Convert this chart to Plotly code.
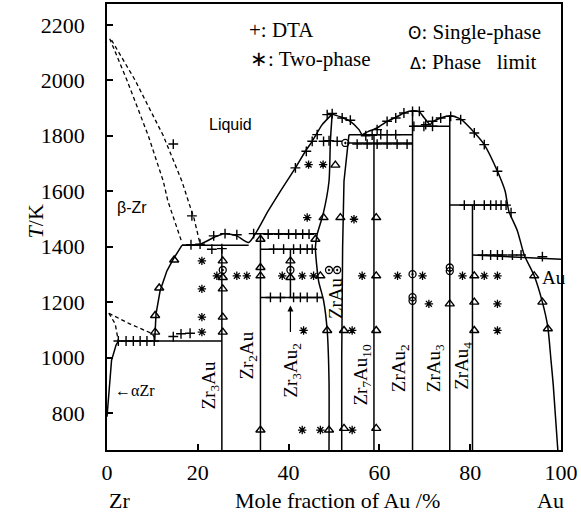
import plotly.graph_objects as go

# ---------------- data (x: mole fraction Au %, y: T/K) ----------------
liqA_x = [0.6, 4.4, 9.1, 12.4, 13.4, 15.0, 16.5]
liqA_y = [2150, 2000, 1800, 1636, 1565, 1490, 1415]
liqB_x = [1.0, 6.2, 12.4, 16.5, 17.9, 19.2, 20.5]
liqB_y = [2145, 2000, 1800, 1636, 1565, 1500, 1410]
ab1_x = [0.4, 1.8, 2.5]
ab1_y = [1160, 1122, 1060]
ab2_x = [0.4, 5.0, 9.9, 10.5]
ab2_y = [1160, 1122, 1087, 1072]
aZr_x = [0.0, 0.5, 1.0, 2.0, 2.5]
aZr_y = [787, 900, 990, 1045, 1060]
bZr_x = [10.5, 10.6, 10.8, 11.7, 13.2, 14.6, 16.5]
bZr_y = [1060, 1092, 1158, 1241, 1313, 1355, 1405]
liq1_x = [16.5, 20.5, 23.5, 25.7, 28.6, 31.2, 35.5, 38.2, 41.5, 43.7, 45.2, 47.4, 49.6]
liq1_y = [1405, 1409, 1433, 1447, 1439, 1415, 1529, 1600, 1684, 1744, 1780, 1840, 1878]
liq2_x = [49.6, 51.8, 53.6, 55.5, 56.2, 57.5, 59.5, 61.7, 63.6, 65.4, 67.3, 68.8, 69.8, 71.2,
          71.7, 73.5, 75.7, 77.9, 80.9, 83.1, 86.0, 87.7, 88.5, 90.4, 91.9, 94.1, 95.9,
          97.1, 97.8, 98.3, 99.3]
liq2_y = [1878, 1866, 1852, 1822, 1804, 1815, 1828, 1852, 1866, 1882, 1890, 1886, 1866, 1840,
          1850, 1864, 1872, 1860, 1812, 1768, 1672, 1600, 1529, 1457, 1370, 1295, 1200,
          1110, 990, 900, 667]
zrauL_x = [49.6, 49.2, 48.9, 47.6, 46.3, 45.9, 46.6, 47.7, 48.5, 48.9, 48.9]
zrauL_y = [1878, 1780, 1636, 1517, 1445, 1397, 1277, 1206, 1098, 918, 667]
zrauR_x = [53.3, 52.6, 52.2, 51.9, 51.7, 51.7]
zrauR_y = [1804, 1700, 1636, 1400, 1000, 667]
comp_x = [25.3, 33.8, 40.4, 58.8, 67.3, 75.5, 80.5]
comp_lo = [667, 667, 1217, 667, 667, 667, 667]
comp_hi = [1400, 1447, 1391, 1804, 1890, 1872, 1550]
hor_x0 = [2.5, 16.5, 32.3, 33.8, 33.8, 53.3, 52.9, 67.3, 75.5, 80.5]
hor_x1 = [25.3, 31.2, 46.3, 45.9, 47.6, 67.3, 67.3, 75.5, 88.3, 100.0]
hor_y0 = [1060, 1405, 1447, 1391, 1217, 1804, 1774, 1834, 1550, 1370]
hor_y1 = [1060, 1405, 1447, 1391, 1217, 1804, 1774, 1834, 1550, 1355]

dta_x = [14.6, 18.7, 18.5, 2.5, 4.2, 5.8, 7.3, 8.8, 10.4, 14.6, 16.3, 18.3,
         20.5, 23.5, 26.0, 28.6, 23.1, 25.3,
         32.3, 35.5, 37.8, 40.0, 41.6, 43.1, 44.5,
         36.7, 38.9, 41.1, 42.6, 44.1, 45.2,
         36.0, 38.2, 41.1, 42.6, 44.1, 46.3,
         41.5, 43.9, 45.2, 46.3, 48.5, 49.6, 51.8, 53.6,
         47.7, 48.9, 50.7,
         57.0, 58.4, 60.3, 61.7, 63.6,
         55.1, 57.3, 59.5, 61.7, 63.9, 66.1,
         59.5, 61.7, 63.6, 65.4, 67.3, 68.8,
         67.6, 69.8, 71.7,
         70.2, 71.7, 73.5, 75.7, 77.9, 80.9, 83.1, 86.0, 89.0,
         78.7, 80.9, 83.1, 84.5, 85.7, 86.8, 87.9,
         82.7, 84.5, 86.0, 87.1, 89.3, 91.2, 95.9]
dta_y = [1770, 1511, 1407, 1060, 1060, 1060, 1060, 1060, 1060, 1076, 1086, 1088,
         1409, 1439, 1447, 1443, 1391, 1393,
         1447, 1445, 1445, 1445, 1445, 1445, 1445,
         1391, 1391, 1391, 1391, 1391, 1391,
         1217, 1217, 1217, 1217, 1217, 1217,
         1684, 1744, 1780, 1804, 1876, 1880, 1864, 1856,
         1780, 1782, 1780,
         1800, 1802, 1804, 1804, 1804,
         1770, 1770, 1770, 1770, 1770, 1770,
         1822, 1852, 1864, 1882, 1888, 1888,
         1834, 1834, 1834,
         1840, 1852, 1864, 1870, 1858, 1810, 1768, 1672, 1523,
         1550, 1550, 1550, 1550, 1550, 1550, 1550,
         1370, 1370, 1370, 1370, 1370, 1370, 1364]
two_x = [20.9, 20.9, 20.9, 20.9, 24.2, 28.6, 30.8, 38.6, 43.0, 45.5,
         43.3, 54.0, 56.2, 44.1, 54.4, 44.4, 47.6,
         64.0, 69.5, 70.9, 78.3, 83.1, 86.0, 86.0, 86.0, 43.0, 47.0, 54.0]
two_y = [1349, 1248, 1146, 1092, 1295, 1295, 1295, 1295, 1295, 1295,
         1098, 1098, 1295, 1505, 1499, 1696, 1696,
         1295, 1295, 1194, 1295, 1295, 1295, 1194, 1098, 739, 739, 739]
single_x = [25.5, 40.4, 48.9, 50.7, 52.5, 67.3, 67.3, 67.3, 75.5, 75.5]
single_y = [1316, 1316, 1316, 1316, 1774, 1301, 1218, 1205, 1325, 1312]
limit_x = [14.8, 11.5, 10.6, 10.6,
           25.5, 25.5, 25.5, 25.5, 25.5,
           33.8, 33.8, 33.8, 33.8, 45.9, 40.4, 40.4, 47.0,
           47.7, 51.4, 48.5, 52.2, 48.9, 52.2, 50.3,
           59.3, 59.3, 59.3, 59.3, 75.5, 80.9, 80.9, 80.9, 94.1, 95.9, 97.1]
limit_y = [1352, 1251, 1152, 1092,
           1349, 1289, 1248, 1146, 1092,
           1427, 1325, 1295, 739, 1427, 1349, 1289, 1295,
           1505, 1505, 1098, 1098, 739, 745, 1694,
           1505, 1295, 1098, 745, 1194, 1295, 1200, 1098, 1295, 1200, 1104]

comp_labels = ["Zr<sub>3</sub>Au", "Zr<sub>2</sub>Au", "Zr<sub>3</sub>Au<sub>2</sub>", "ZrAu",
               "Zr<sub>7</sub>Au<sub>10</sub>", "ZrAu<sub>2</sub>", "ZrAu<sub>3</sub>", "ZrAu<sub>4</sub>"]
comp_label_x = [22.7, 31.1, 40.8, 50.3, 56.2, 64.7, 72.4, 78.5]
comp_label_y = [900, 1008, 954, 1216, 936, 961, 961, 972]

x_ticks = [0, 20, 40, 60, 80, 100]
y_ticks = [800, 1000, 1200, 1400, 1600, 1800, 2000, 2200]

# ---------------- figure ----------------
fig = go.Figure()
BL = dict(color="black", width=1.5)
DL = dict(color="black", width=1.3, dash="4px,3px")
SL = dict(color="black", width=1.5, shape="spline", smoothing=0.6)

def line(x, y, style):
    fig.add_trace(go.Scatter(x=x, y=y, mode="lines", line=style, hoverinfo="skip"))

line(liqA_x, liqA_y, DL)
line(liqB_x, liqB_y, DL)
line(ab1_x, ab1_y, DL)
line(ab2_x, ab2_y, DL)
line(aZr_x, aZr_y, BL)
line(bZr_x, bZr_y, BL)
line(liq1_x, liq1_y, SL)
line(liq2_x, liq2_y, SL)
line(zrauL_x, zrauL_y, SL)
line(zrauR_x, zrauR_y, BL)
for cx, lo, hi in zip(comp_x, comp_lo, comp_hi):
    line([cx, cx], [lo, hi], BL)
for a, b, c, d in zip(hor_x0, hor_x1, hor_y0, hor_y1):
    line([a, b], [c, d], BL)

fig.add_trace(go.Scatter(x=dta_x, y=dta_y, mode="markers",
                         marker=dict(symbol="cross-thin", size=7, line=dict(color="black", width=1.4))))
fig.add_trace(go.Scatter(x=two_x, y=two_y, mode="markers",
                         marker=dict(symbol="asterisk", size=7, line=dict(color="black", width=1.3))))
fig.add_trace(go.Scatter(x=single_x, y=single_y, mode="markers",
                         marker=dict(symbol="circle-open-dot", size=7, color="black", line=dict(color="black", width=1.3))))
fig.add_trace(go.Scatter(x=limit_x, y=limit_y, mode="markers",
                         marker=dict(symbol="triangle-up-open", size=8, color="black", line=dict(color="black", width=1.4))))

SERIF = "Liberation Serif, Times New Roman, serif"
SANS = "Liberation Sans, Arial, sans-serif"
ann = []
for t, x, y in zip(comp_labels, comp_label_x, comp_label_y):
    ann.append(dict(x=x, y=y, text=t, textangle=-90, showarrow=False,
                    font=dict(family=SERIF, size=19, color="black")))
ann += [
    dict(x=40.4, y=1188, ax=40.4, ay=1087, axref="x", ayref="y", text="", showarrow=True,
         arrowhead=2, arrowsize=1, arrowwidth=1.2, arrowcolor="black"),
    dict(x=95.4, y=1289, text="Au", xanchor="left", showarrow=False,
         font=dict(family=SERIF, size=19, color="black")),
    dict(x=27.2, y=1841, text="Liquid", showarrow=False, font=dict(family=SANS, size=16, color="black")),
    dict(x=5.6, y=1540, text="β-Zr", showarrow=False, font=dict(family=SANS, size=16, color="black")),
    dict(x=1.3, y=882, text="←αZr", xanchor="left", showarrow=False,
         font=dict(family=SERIF, size=16, color="black")),
    dict(x=30.9, y=2182, text="+: DTA", xanchor="left", showarrow=False,
         font=dict(family=SERIF, size=21, color="black")),
    dict(x=31.1, y=2078, text="∗: Two-phase", xanchor="left", showarrow=False,
         font=dict(family=SERIF, size=21, color="black")),
    dict(x=65.8, y=2175, text="<span style='font-family:DejaVu Sans;font-size:17px'>ʘ</span>: Single-phase",
         xanchor="left", showarrow=False, font=dict(family=SERIF, size=21, color="black")),
    dict(x=66.2, y=2067, text="<span style='font-family:DejaVu Sans;font-size:16px'>Δ</span>: Phase   limit",
         xanchor="left", showarrow=False, font=dict(family=SERIF, size=21, color="black")),
    dict(xref="paper", yref="paper", x=0.508, y=-0.113, yanchor="middle",
         text="Mole fraction of Au /%", showarrow=False, font=dict(family=SERIF, size=22, color="black")),
    dict(xref="paper", yref="paper", x=0.0, y=-0.113, yanchor="middle",
         text="Zr", showarrow=False, font=dict(family=SERIF, size=22, color="black")),
    dict(xref="paper", yref="paper", x=1.012, y=-0.113, yanchor="middle",
         text="Au", showarrow=False, font=dict(family=SERIF, size=22, color="black")),
    dict(xref="paper", yref="paper", x=-0.19, y=0.513, textangle=-90,
         text="<i>T</i>/K", showarrow=False, font=dict(family=SERIF, size=22, color="black")),
]

fig.update_layout(
    width=581, height=520,
    margin=dict(l=107, r=20, t=2, b=70),
    paper_bgcolor="white", plot_bgcolor="white",
    showlegend=False,
    annotations=ann,
    font=dict(family=SERIF, size=22, color="black"),
)
fig.update_xaxes(range=[0, 100], tickvals=x_ticks, ticks="inside", ticklen=6, tickwidth=1.5,
                 tickcolor="black", showline=True, linecolor="black", linewidth=1.5, mirror=True,
                 showgrid=False, zeroline=False, ticklabelstandoff=2,
                 tickfont=dict(family=SERIF, size=22, color="black"))
fig.update_yaxes(range=[667, 2275], tickvals=y_ticks, ticks="inside", ticklen=6, tickwidth=1.5,
                 tickcolor="black", showline=True, linecolor="black", linewidth=1.5, mirror=True,
                 showgrid=False, zeroline=False, ticklabelstandoff=16,
                 tickfont=dict(family=SERIF, size=22, color="black"))

fig.write_html("out.html")
